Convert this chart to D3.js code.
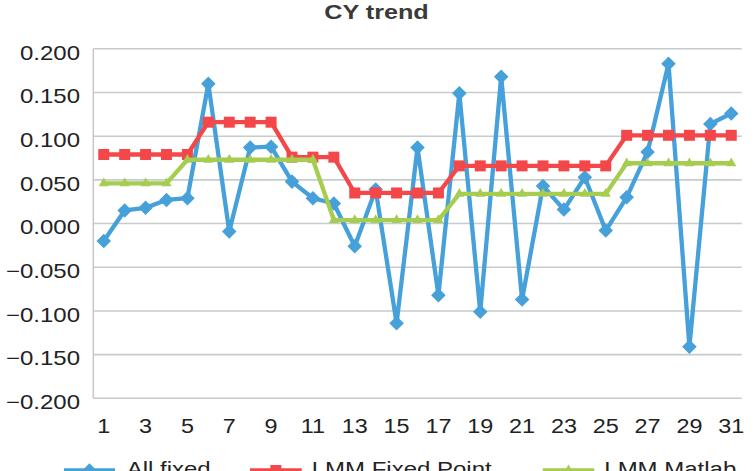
<!DOCTYPE html>
<html>
<head>
<meta charset="utf-8">
<script src="https://cdn.jsdelivr.net/npm/d3@7"></script>
<style>
  html, body { margin: 0; padding: 0; background: #fff; }
  svg { display: block; }
  text { font-family: "Liberation Sans", Arial, Helvetica, sans-serif; }
</style>
</head>
<body>
<div id="chart"></div>
<script>
const title = "CY trend";
const categories = [1,2,3,4,5,6,7,8,9,10,11,12,13,14,15,16,17,18,19,20,21,22,23,24,25,26,27,28,29,30,31];
const xTickLabels = [1,3,5,7,9,11,13,15,17,19,21,23,25,27,29,31];
const yTicks = [-0.2,-0.15,-0.1,-0.05,0,0.05,0.1,0.15,0.2];
const seriesNames = ["All fixed", "LMM Fixed Point", "LMM Matlab"];
const allFixed = [-0.020, 0.015, 0.018, 0.027, 0.029, 0.160, -0.009, 0.087, 0.088, 0.048,
                  0.029, 0.023, -0.026, 0.039, -0.114, 0.087, -0.082, 0.149, -0.101, 0.168,
                  -0.087, 0.043, 0.016, 0.053, -0.008, 0.030, 0.082, 0.183, -0.141, 0.114, 0.126];
const lmmFixedPoint = [0.079, 0.079, 0.079, 0.079, 0.079, 0.116, 0.116, 0.116, 0.116, 0.076,
                       0.076, 0.076, 0.035, 0.035, 0.035, 0.035, 0.035, 0.066, 0.066, 0.066,
                       0.066, 0.066, 0.066, 0.066, 0.066, 0.101, 0.101, 0.101, 0.101, 0.101, 0.101];
const lmmMatlab = [0.046, 0.046, 0.046, 0.046, 0.073, 0.073, 0.073, 0.073, 0.073, 0.073,
                   0.073, 0.004, 0.004, 0.004, 0.004, 0.004, 0.004, 0.034, 0.034, 0.034,
                   0.034, 0.034, 0.034, 0.034, 0.034, 0.069, 0.069, 0.069, 0.069, 0.069, 0.069];

(function () {
const W = 756, H = 471;
const pLeft = 93.3, pRight = 741.7, pTop = 48.8, pBottom = 398.3;
const SX = 1.2; // horizontal text stretch seen in the reference

const colors = ["#46A0DA", "#F4474A", "#A6CC50"];
const symbols = [d3.symbolDiamond2, d3.symbolSquare, d3.symbolTriangle];
const symSizes = [135, 121, 45];
const seriesData = [allFixed, lmmFixedPoint, lmmMatlab];

const svg = d3.select("#chart").append("svg").attr("width", W).attr("height", H);
svg.append("rect").attr("width", W).attr("height", H).attr("fill", "#fff");

const x = d3.scaleBand().domain(categories).range([pLeft, pRight]);
const xc = d => x(d) + x.bandwidth() / 2;
const y = d3.scaleLinear().domain([-0.2, 0.2]).range([pBottom, pTop]);

// gridlines
svg.append("g").selectAll("line").data(yTicks).join("line")
  .attr("x1", pLeft).attr("x2", pRight)
  .attr("y1", d => y(d)).attr("y2", d => y(d))
  .attr("stroke", "#c5cccc").attr("stroke-width", 1.6);

// left axis line
svg.append("line").attr("x1", pLeft).attr("x2", pLeft).attr("y1", y(0.2)).attr("y2", y(-0.2))
  .attr("stroke", "#c5cccc").attr("stroke-width", 1.6);

// y axis
const yAxis = d3.axisLeft(y).tickValues(yTicks).tickFormat(d3.format(".3f")).tickSize(0);
const gy = svg.append("g").attr("transform", `translate(${pLeft},0)`).call(yAxis);
gy.select(".domain").remove();
gy.selectAll("text")
  .attr("x", -13.3 / SX).attr("y", 10.2).attr("dy", null)
  .attr("transform", `scale(${SX},1)`)
  .attr("text-anchor", "end")
  .attr("font-size", 20).attr("fill", "#222")
  .attr("font-family", "'Liberation Sans', Arial, sans-serif");

// x axis
const xAxis = d3.axisBottom(x).tickValues(xTickLabels).tickSize(0);
const gx = svg.append("g").attr("transform", `translate(0,${pBottom})`).call(xAxis);
gx.select(".domain").remove();
gx.selectAll("text")
  .attr("y", 35.2).attr("dy", null)
  .attr("transform", `scale(${SX},1)`)
  .attr("font-size", 19.5).attr("fill", "#222")
  .attr("font-family", "'Liberation Sans', Arial, sans-serif");

// title
svg.append("text")
  .attr("transform", `translate(376.5,19.3) scale(${SX},1)`)
  .attr("text-anchor", "middle")
  .attr("font-size", 21).attr("font-weight", "bold").attr("fill", "#3a3a3a")
  .text(title);

// series
const line = d3.line().x((d, i) => xc(categories[i])).y(d => y(d));
seriesData.forEach((vals, si) => {
  const g = svg.append("g");
  g.append("path").datum(vals).attr("d", line)
    .attr("fill", "none").attr("stroke", colors[si]).attr("stroke-width", 4.3)
    .attr("stroke-linejoin", "round");
  g.selectAll("path.m").data(vals).join("path").attr("class", "m")
    .attr("transform", (d, i) => `translate(${xc(categories[i])},${y(d)})`)
    .attr("d", d3.symbol().type(symbols[si]).size(symSizes[si]))
    .attr("fill", colors[si]);
});

// legend (cut off at the bottom edge, as in the reference)
const legendItems = [
  {x1: 64, x2: 115, tx: 126.7},
  {x1: 250, x2: 301.7, tx: 311.7},
  {x1: 542.7, x2: 594.3, tx: 604.3}
];
const ly = 470.5;
legendItems.forEach((it, i) => {
  const g = svg.append("g");
  g.append("line").attr("x1", it.x1).attr("x2", it.x2).attr("y1", ly).attr("y2", ly)
    .attr("stroke", colors[i]).attr("stroke-width", 4.3);
  g.append("path")
    .attr("transform", `translate(${(it.x1 + it.x2) / 2},${ly})`)
    .attr("d", d3.symbol().type(symbols[i]).size(symSizes[i]))
    .attr("fill", colors[i]);
  g.append("text")
    .attr("transform", `translate(${it.tx},475.5) scale(${SX},1)`)
    .attr("font-size", 20).attr("fill", "#222")
    .text(seriesNames[i]);
});
})();
</script>
</body>
</html>
